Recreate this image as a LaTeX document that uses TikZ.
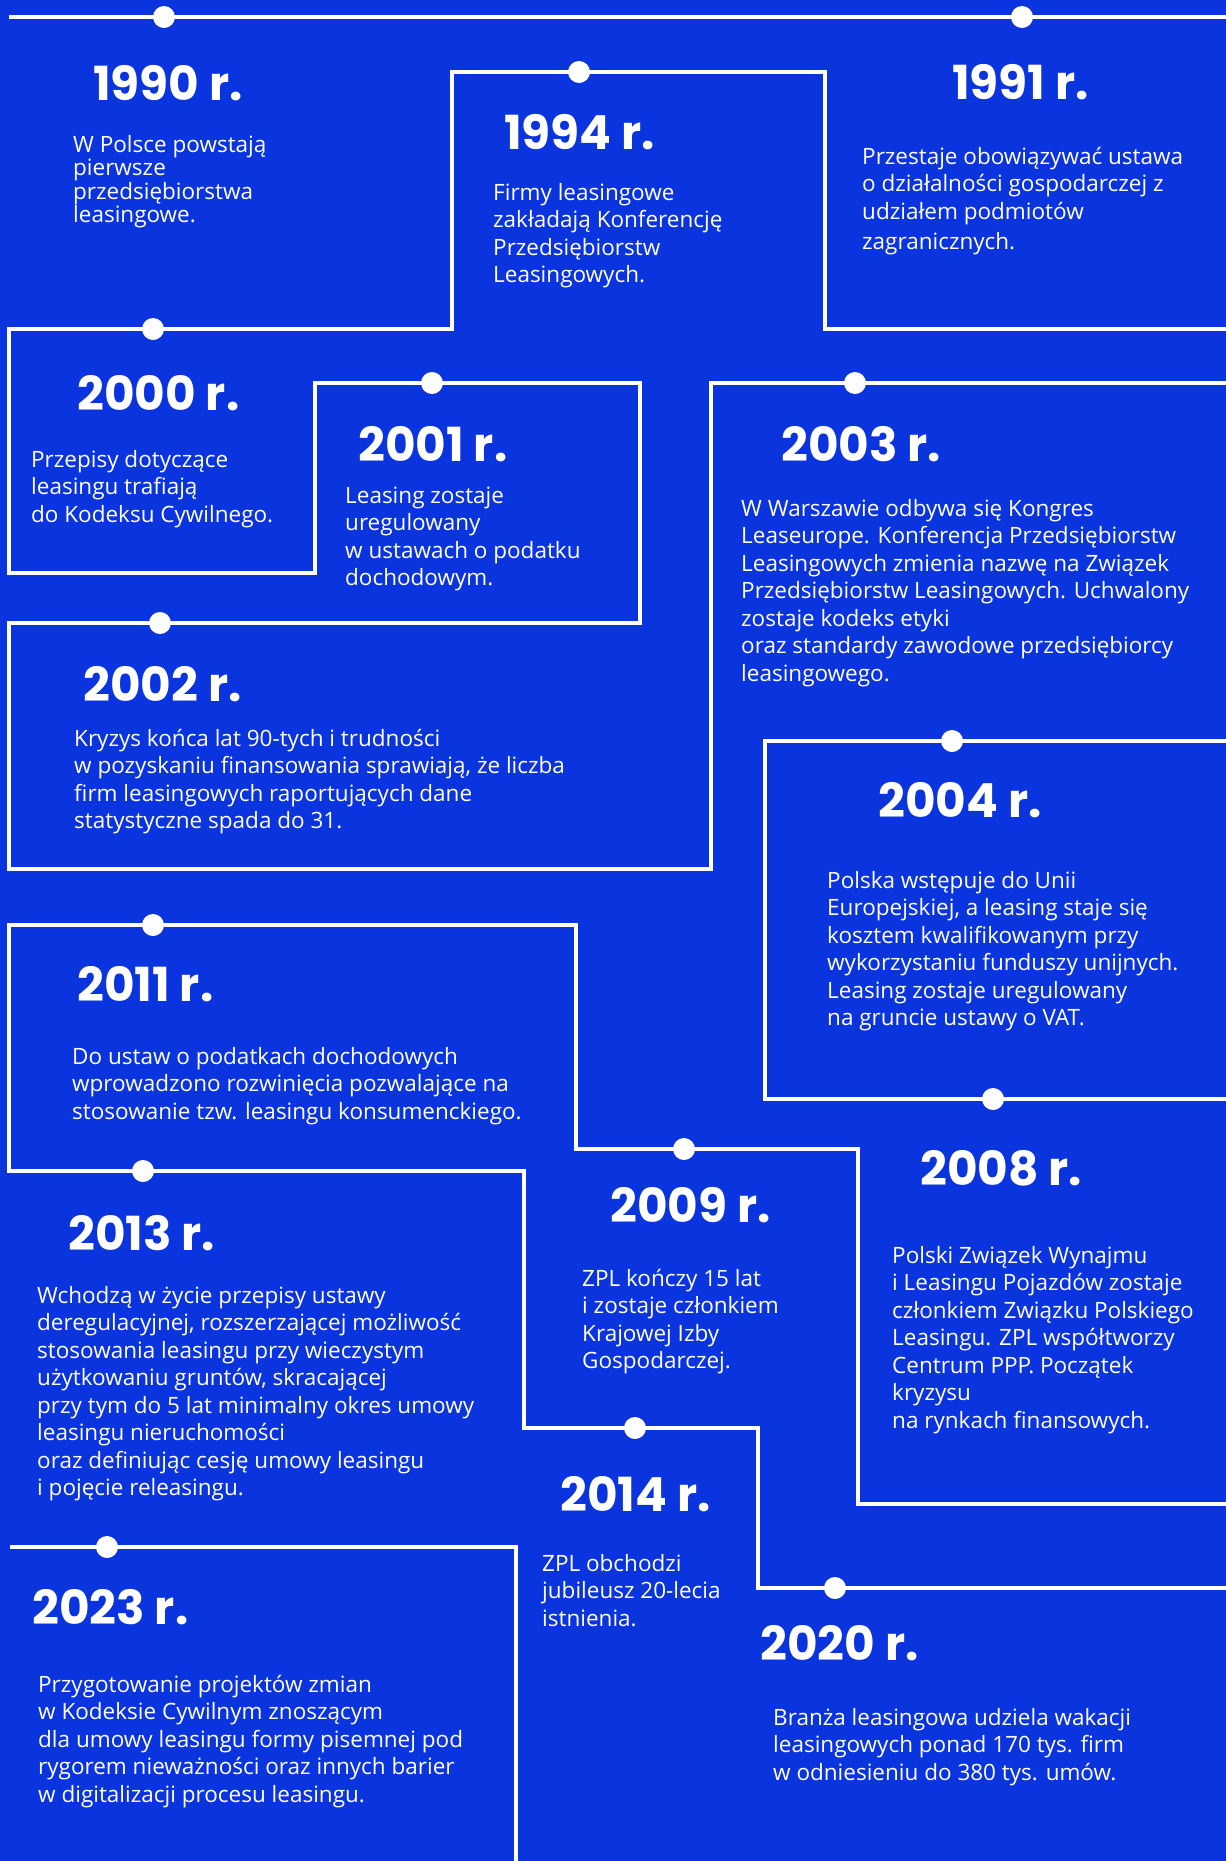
\documentclass[tikz,border=0pt]{standalone}
\usepackage{fontspec}
\newfontfamily\bodyfont{Open Sans}
\newfontfamily\yearfont{Poppins}
\definecolor{bg}{RGB}{10,52,222}
\newcommand\tstrut{\rule{0pt}{22pt}}
\begin{document}
\begin{tikzpicture}[x=1pt,y=-1pt,
  tl/.style={draw=white, line width=4.5pt, line join=miter},
  dotn/.style={circle, fill=white, minimum size=22pt, inner sep=0pt},
  yr/.style={anchor=base west, inner sep=0pt, text=white, font=\yearfont\bfseries\fontsize{47}{50}\selectfont},
  body/.style={anchor=north west, inner sep=0pt, text=white, align=left, font=\bodyfont\fontsize{22.5}{27.5}\selectfont}]
\fill[bg] (0,0) rectangle (1226,1861);
\useasboundingbox (0,0) rectangle (1226,1861);

% ---- timeline lines ----
\coordinate (a0) at (9,17);   \coordinate (a1) at (1226,17);
\draw[tl] (a0) -- (a1);

\draw[tl] (1226,329) -- (825,329) -- (825,72) -- (452,72) -- (452,329) -- (9,329)
  -- (9,573) -- (315,573) -- (315,383) -- (640,383) -- (640,623) -- (9,623)
  -- (9,869) -- (711,869) -- (711,383) -- (1226,383);

\draw[tl] (1226,741) -- (765,741) -- (765,1099) -- (1226,1099);

\draw[tl] (1226,1504) -- (858,1504) -- (858,1149) -- (576,1149) -- (576,925) -- (9,925)
  -- (9,1171) -- (524,1171) -- (524,1428) -- (758,1428) -- (758,1588) -- (1226,1588);

\draw[tl] (10,1547) -- (516,1547) -- (516,1861);

% ---- dots ----
\node[dotn] (d1990) at (164,17) {};
\node[dotn] (d1991) at (1022,17) {};
\node[dotn] (d1994) at (579,72) {};
\node[dotn] (d2000) at (153,329) {};
\node[dotn] (d2001) at (432,383) {};
\node[dotn] (d2003) at (855,383) {};
\node[dotn] (d2002) at (160,623) {};
\node[dotn] (d2004) at (952,741) {};
\node[dotn] (d2011) at (153,925) {};
\node[dotn] (d2008) at (993,1099) {};
\node[dotn] (d2009) at (684,1149) {};
\node[dotn] (d2013) at (143,1171) {};
\node[dotn] (d2014) at (635,1428) {};
\node[dotn] (d2023) at (107,1547) {};
\node[dotn] (d2020) at (835,1588) {};

% ---- years ----
\node[yr] (y1990) at (93,100) {1990 r.};
\node[yr] (y1994) at (504,149) {1994 r.};
\node[yr] (y1991) at (952,99) {1991 r.};
\node[yr] (y2000) at (77,410) {2000 r.};
\node[yr] (y2001) at (358,461) {2001 r.};
\node[yr] (y2003) at (781,461) {2003 r.};
\node[yr] (y2002) at (83,701) {2002 r.};
\node[yr] (y2004) at (878,817) {2004 r.};
\node[yr] (y2011) at (77,1001) {2011 r.};
\node[yr] (y2008) at (920,1185) {2008 r.};
\node[yr] (y2009) at (610,1222) {2009 r.};
\node[yr] (y2013) at (68,1250) {2013 r.};
\node[yr] (y2014) at (560,1511) {2014 r.};
\node[yr] (y2023) at (32,1624) {2023 r.};
\node[yr] (y2020) at (760,1660) {2020 r.};

% ---- texts ----
\node[body, font=\bodyfont\fontsize{22.5}{23.4}\selectfont] (t1990) at (73,130)
  {\tstrut W Polsce powstają\\pierwsze\\przedsiębiorstwa\\leasingowe.};
\node[body] (t1994) at (493,178)
  {\tstrut Firmy leasingowe\\zakładają Konferencję\\Przedsiębiorstw\\Leasingowych.};
\node[body] (t1991) at (862,142)
  {\tstrut Przestaje obowiązywać ustawa\\o działalności gospodarczej z\\udziałem podmiotów\\[3pt]zagranicznych.};
\node[body] (t2000) at (31,445)
  {\tstrut Przepisy dotyczące\\leasingu trafiają\\do Kodeksu Cywilnego.};
\node[body] (t2001) at (345,481)
  {\tstrut Leasing zostaje\\uregulowany\\w ustawach o podatku\\dochodowym.};
\node[body] (t2003) at (741,494)
  {\tstrut W Warszawie odbywa się Kongres\\Leaseurope. Konferencja Przedsiębiorstw\\Leasingowych zmienia nazwę na Związek\\Przedsiębiorstw Leasingowych. Uchwalony\\zostaje kodeks etyki\\oraz standardy zawodowe przedsiębiorcy\\leasingowego.};
\node[body] (t2002) at (74,724)
  {\tstrut Kryzys końca lat 90-tych i trudności\\w pozyskaniu finansowania sprawiają, że liczba\\firm leasingowych raportujących dane\\statystyczne spada do 31.};
\node[body] (t2004) at (827,866)
  {\tstrut Polska wstępuje do Unii\\Europejskiej, a leasing staje się\\kosztem kwalifikowanym przy\\wykorzystaniu funduszy unijnych.\\Leasing zostaje uregulowany\\na gruncie ustawy o VAT.};
\node[body] (t2011) at (72,1042)
  {\tstrut Do ustaw o podatkach dochodowych\\wprowadzono rozwinięcia pozwalające na\\stosowanie tzw. leasingu konsumenckiego.};
\node[body] (t2008) at (892,1241)
  {\tstrut Polski Związek Wynajmu\\i Leasingu Pojazdów zostaje\\członkiem Związku Polskiego\\Leasingu. ZPL współtworzy\\Centrum PPP. Początek\\kryzysu\\na rynkach finansowych.};
\node[body] (t2009) at (582,1264)
  {\tstrut ZPL kończy 15 lat\\i zostaje członkiem\\Krajowej Izby\\Gospodarczej.};
\node[body] (t2013) at (37,1281)
  {\tstrut Wchodzą w życie przepisy ustawy\\deregulacyjnej, rozszerzającej możliwość\\stosowania leasingu przy wieczystym\\użytkowaniu gruntów, skracającej\\przy tym do 5 lat minimalny okres umowy\\leasingu nieruchomości\\oraz definiując cesję umowy leasingu\\i pojęcie releasingu.};
\node[body] (t2014) at (542,1549)
  {\tstrut ZPL obchodzi\\jubileusz 20-lecia\\istnienia.};
\node[body] (t2023) at (38,1670)
  {\tstrut Przygotowanie projektów zmian\\w Kodeksie Cywilnym znoszącym\\dla umowy leasingu formy pisemnej pod\\rygorem nieważności oraz innych barier\\w digitalizacji procesu leasingu.};
\node[body] (t2020) at (773,1703)
  {\tstrut Branża leasingowa udziela wakacji\\leasingowych ponad 170 tys. firm\\w odniesieniu do 380 tys. umów.};
\end{tikzpicture}
\end{document}
